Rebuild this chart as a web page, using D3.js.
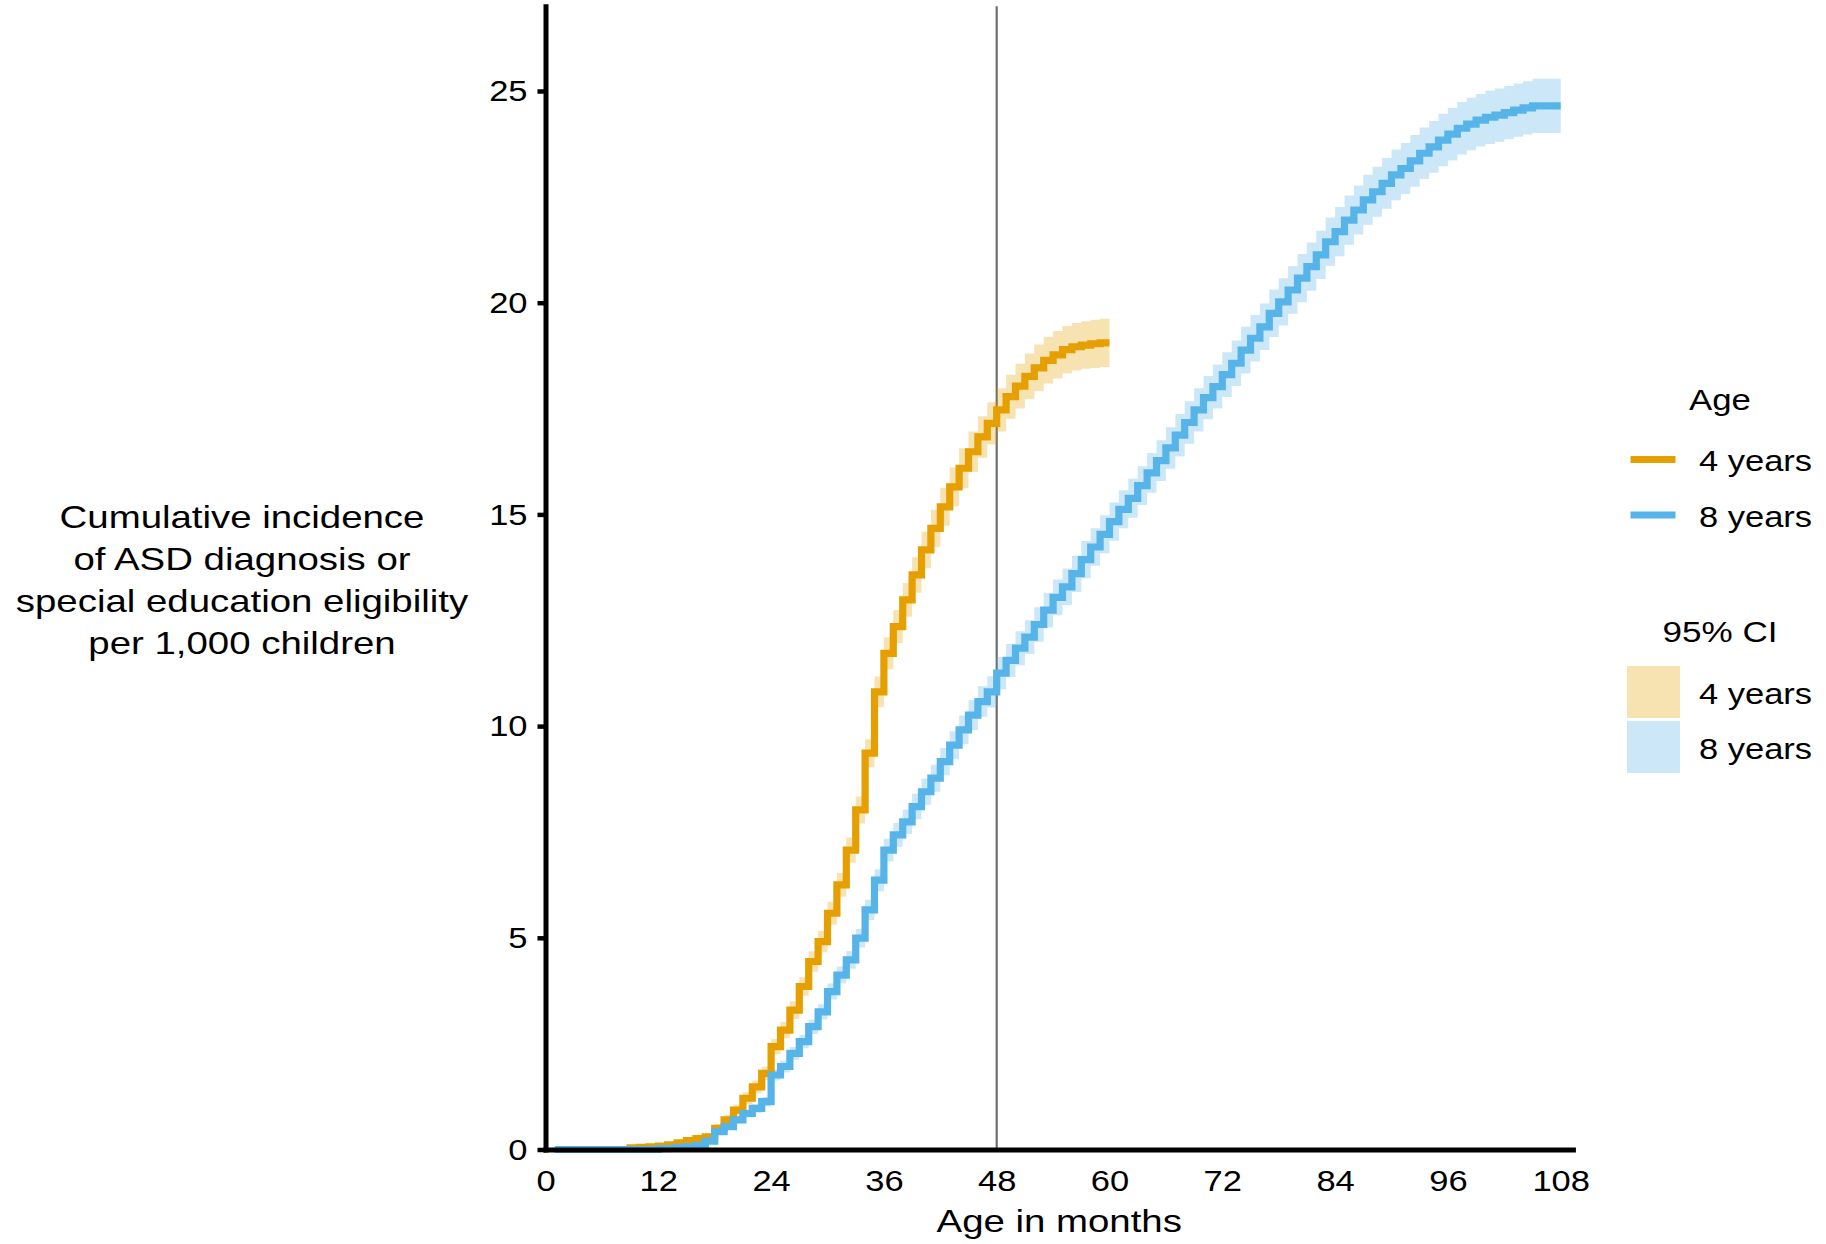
<!DOCTYPE html>
<html><head><meta charset="utf-8">
<script src="https://cdn.jsdelivr.net/npm/d3@7"></script>
<style>body{margin:0;background:#fff} text{font-family:"Liberation Sans",Arial,sans-serif}</style>
</head><body><svg id="c" width="1826" height="1244"></svg>
<script>
// ---- data (cumulative incidence per 1,000, by month of age) ----
const months4 = [1,2,3,4,5,6,7,8,9,10,11,12,13,14,15,16,17,18,19,20,21,22,23,24,25,26,27,28,29,30,31,32,33,34,35,36,37,38,39,40,41,42,43,44,45,46,47,48,49,50,51,52,53,54,55,56,57,58,59,60];
const est4 = [0,0,0,0,0,0,0,0,0.04,0.05,0.06,0.08,0.11,0.16,0.21,0.26,0.30,0.50,0.70,0.93,1.21,1.48,1.80,2.43,2.82,3.29,3.85,4.44,4.91,5.58,6.25,7.07,8.02,9.36,10.81,11.72,12.35,12.98,13.57,14.16,14.67,15.18,15.65,16.09,16.48,16.83,17.15,17.47,17.78,18.03,18.26,18.46,18.64,18.77,18.89,18.96,19.00,19.03,19.05,19.05];
const lower4 = [0,0,0,0,0,0,0,0,0.01,0.01,0.02,0.03,0.05,0.09,0.13,0.17,0.21,0.40,0.58,0.80,1.07,1.33,1.64,2.25,2.63,3.08,3.63,4.20,4.66,5.31,5.97,6.77,7.70,9.03,10.45,11.34,11.96,12.58,13.15,13.73,14.23,14.73,15.19,15.62,16.00,16.34,16.65,16.96,17.26,17.50,17.72,17.91,18.09,18.21,18.33,18.40,18.44,18.46,18.48,18.48];
const upper4 = [0,0,0,0,0,0,0,0,0.07,0.09,0.10,0.13,0.17,0.23,0.29,0.35,0.39,0.60,0.82,1.06,1.35,1.63,1.96,2.61,3.01,3.50,4.07,4.68,5.16,5.85,6.53,7.37,8.34,9.69,11.17,12.10,12.74,13.38,13.99,14.59,15.11,15.63,16.11,16.56,16.96,17.32,17.65,17.98,18.30,18.56,18.80,19.01,19.19,19.33,19.45,19.52,19.56,19.60,19.62,19.62];

const months8 = [1,2,3,4,5,6,7,8,9,10,11,12,13,14,15,16,17,18,19,20,21,22,23,24,25,26,27,28,29,30,31,32,33,34,35,36,37,38,39,40,41,42,43,44,45,46,47,48,49,50,51,52,53,54,55,56,57,58,59,60,61,62,63,64,65,66,67,68,69,70,71,72,73,74,75,76,77,78,79,80,81,82,83,84,85,86,87,88,89,90,91,92,93,94,95,96,97,98,99,100,101,102,103,104,105,106,107,108];
const est8 = [0,0,0,0,0,0,0,0,0,0,0,0.02,0.03,0.05,0.07,0.10,0.20,0.42,0.54,0.70,0.85,0.97,1.13,1.76,1.96,2.27,2.55,2.90,3.25,3.73,4.12,4.48,4.99,5.66,6.36,7.07,7.43,7.74,8.10,8.45,8.77,9.16,9.55,9.91,10.26,10.58,10.81,11.25,11.55,11.84,12.10,12.40,12.74,13.04,13.29,13.60,13.93,14.23,14.53,14.83,15.12,15.38,15.68,15.98,16.27,16.57,16.87,17.17,17.47,17.76,18.02,18.30,18.57,18.88,19.16,19.43,19.75,20.02,20.30,20.58,20.85,21.13,21.44,21.68,21.95,22.19,22.43,22.62,22.82,23.02,23.17,23.35,23.53,23.68,23.84,23.98,24.12,24.22,24.31,24.38,24.43,24.49,24.55,24.60,24.65,24.65,24.65,24.65];
const lower8 = [0,0,0,0,0,0,0,0,0,0,0,0.00,0.01,0.02,0.04,0.07,0.16,0.36,0.47,0.62,0.76,0.87,1.02,1.63,1.82,2.12,2.39,2.73,3.07,3.54,3.92,4.27,4.77,5.42,6.10,6.80,7.15,7.45,7.80,8.14,8.45,8.84,9.22,9.57,9.91,10.22,10.44,10.87,11.16,11.44,11.70,11.99,12.33,12.62,12.86,13.17,13.49,13.79,14.08,14.38,14.67,14.92,15.22,15.51,15.79,16.08,16.37,16.67,16.96,17.25,17.50,17.77,18.03,18.33,18.61,18.88,19.19,19.46,19.74,20.01,20.28,20.56,20.87,21.10,21.37,21.61,21.84,22.03,22.22,22.42,22.57,22.74,22.92,23.07,23.22,23.36,23.50,23.60,23.69,23.75,23.80,23.86,23.92,23.97,24.01,24.01,24.01,24.01];
const upper8 = [0,0,0,0,0,0,0,0,0,0,0,0.04,0.05,0.08,0.10,0.13,0.24,0.48,0.61,0.78,0.94,1.07,1.24,1.89,2.10,2.42,2.71,3.07,3.43,3.92,4.32,4.69,5.21,5.90,6.62,7.34,7.71,8.03,8.40,8.76,9.09,9.48,9.88,10.25,10.61,10.94,11.18,11.63,11.94,12.24,12.50,12.81,13.15,13.46,13.72,14.03,14.37,14.67,14.98,15.28,15.57,15.84,16.14,16.45,16.75,17.06,17.37,17.67,17.98,18.27,18.54,18.83,19.11,19.43,19.71,19.98,20.31,20.58,20.86,21.15,21.42,21.70,22.01,22.26,22.53,22.77,23.02,23.21,23.42,23.62,23.77,23.96,24.14,24.29,24.46,24.60,24.74,24.84,24.93,25.01,25.06,25.12,25.18,25.23,25.29,25.29,25.29,25.29];

const xTicks = [0,12,24,36,48,60,72,84,96,108];
const yTicks = [0,5,10,15,20,25];
const seriesNames = ["4 years","8 years"];
const referenceMonth = 48;
const yTitleLines = ["Cumulative incidence","of ASD diagnosis or","special education eligibility","per 1,000 children"];
const xTitle = "Age in months";
const lineTitle = "Age";
const ciTitle = "95% CI";

const colors = ["#E69F00","#56B4E9"];

// ---- layout ----
const svg = d3.select("#c");
svg.append("rect").attr("width",1826).attr("height",1244).attr("fill","#fff");

const x0 = 545.5, pxPerMonth = 9.4, xMax = 109.3;
const yZero = 1149.5, pxPerUnit = 42.34, yMax = 27;
const x = d3.scaleLinear().domain([0, xMax]).range([x0, x0 + xMax*pxPerMonth]);
const y = d3.scaleLinear().domain([0, yMax]).range([yZero, yZero - yMax*pxPerUnit]);

const SX = 1.15;      // horizontal widening of glyphs (reference text is wide)
const SX_T = 1.2;

function addText(parent, px, py, str, size, anchor, sx) {
  return parent.append("text")
    .attr("transform", `translate(${px},${py}) scale(${sx},1)`)
    .attr("text-anchor", anchor).attr("font-size", size).attr("fill", "#000").text(str);
}

// reference vertical line
svg.append("line")
  .attr("x1", x(referenceMonth)).attr("x2", x(referenceMonth))
  .attr("y1", y(0)).attr("y2", y(yMax))
  .attr("stroke", "#6e6e6e").attr("stroke-width", 2.2);

const series = [
  {m: months4, est: est4, lo: lower4, hi: upper4, color: colors[0]},
  {m: months8, est: est8, lo: lower8, hi: upper8, color: colors[1]}
];

const area = d3.area()
  .x(d => x(d.m)).y0(d => y(d.lo)).y1(d => y(d.hi))
  .curve(d3.curveStepAfter);
const line = d3.line()
  .x(d => x(d.m)).y(d => y(d.v))
  .curve(d3.curveStepAfter);

series.forEach(s => {
  const pts = s.m.map((m,i) => ({m, lo: s.lo[i], hi: s.hi[i]}));
  svg.append("path").attr("d", area(pts))
    .attr("fill", s.color).attr("fill-opacity", 0.3).attr("stroke","none");
});
series.forEach(s => {
  const pts = s.m.map((m,i) => ({m, v: s.est[i]}));
  svg.append("path").attr("d", line(pts))
    .attr("fill","none").attr("stroke", s.color).attr("stroke-width", 7.2)
    .attr("stroke-linejoin","miter").attr("stroke-linecap","butt");
});

// axes
const yAxis = d3.axisLeft(y).tickValues(yTicks).tickSize(8).tickSizeOuter(0).tickPadding(10);
const gy = svg.append("g").attr("transform", `translate(${x(0)},0)`).call(yAxis);
gy.select(".domain").attr("stroke","#000").attr("stroke-width",5).attr("stroke-linecap","square");
gy.selectAll(".tick line").attr("stroke","#000").attr("stroke-width",4.5);
gy.selectAll(".tick text").attr("font-size",30).attr("fill","#000")
  .attr("x", -18/SX).attr("transform", `scale(${SX},1)`)
  .style("font-family",'"Liberation Sans",Arial,sans-serif');

const xAxis = d3.axisBottom(x).tickValues(xTicks).tickSize(0).tickSizeOuter(0).tickPadding(20);
const gx = svg.append("g").attr("transform", `translate(0,${y(0)})`).call(xAxis);
gx.select(".domain").attr("stroke","#000").attr("stroke-width",5).attr("stroke-linecap","square");
gx.selectAll(".tick text").attr("font-size",30).attr("fill","#000")
  .attr("transform", `scale(${SX},1)`)
  .style("font-family",'"Liberation Sans",Arial,sans-serif');

// axis titles
addText(svg, (x(0)+x(xMax))/2, 1232, xTitle, 32, "middle", SX_T);
const yt = svg.append("text").attr("text-anchor","middle").attr("font-size",32).attr("fill","#000")
  .attr("transform", `translate(242,0) scale(${SX_T},1)`);
yTitleLines.forEach((t,i) => {
  yt.append("tspan").attr("x", 0).attr("y", 528 + i*41.9).text(t);
});

// legend
const lg = svg.append("g");
addText(lg, 1720, 410, lineTitle, 30, "middle", 1.16);
seriesNames.forEach((n,i) => {
  const cy = 459.5 + i*55.5;
  lg.append("line").attr("x1",1630.5).attr("x2",1675.5).attr("y1",cy).attr("y2",cy)
    .attr("stroke",colors[i]).attr("stroke-width",7);
  addText(lg, 1699, cy+11.5, n, 30, "start", SX);
});
addText(lg, 1720, 641.5, ciTitle, 30, "middle", 1.17);
seriesNames.forEach((n,i) => {
  const top = 666 + i*55;
  lg.append("rect").attr("x",1627).attr("y",top).attr("width",53).attr("height",52)
    .attr("fill",colors[i]).attr("fill-opacity",0.3);
  addText(lg, 1699, top+38, n, 30, "start", SX);
});
</script>
</body></html>
